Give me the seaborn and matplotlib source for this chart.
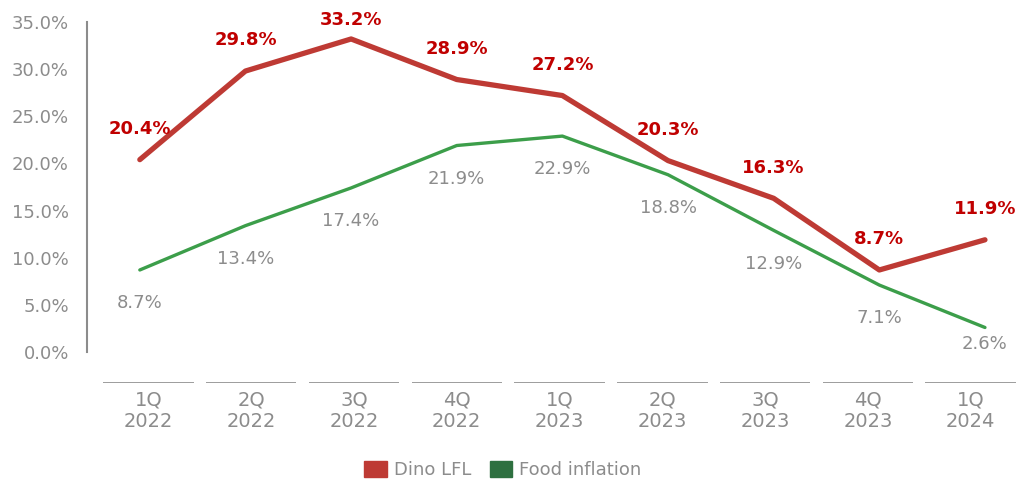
import seaborn as sns
import matplotlib.pyplot as plt
import matplotlib.patches as mpatches
import pandas as pd
import numpy as np

sns.set_style("white")
plt.rcParams["font.family"] = ["DejaVu Sans"]

quarters = ["1Q\n2022", "2Q\n2022", "3Q\n2022", "4Q\n2022", "1Q\n2023",
            "2Q\n2023", "3Q\n2023", "4Q\n2023", "1Q\n2024"]
dino_lfl = [20.4, 29.8, 33.2, 28.9, 27.2, 20.3, 16.3, 8.7, 11.9]
food_inflation = [8.7, 13.4, 17.4, 21.9, 22.9, 18.8, 12.9, 7.1, 2.6]

pos = np.arange(len(quarters))
df = pd.DataFrame({
    "pos": np.concatenate([pos, pos]),
    "value": dino_lfl + food_inflation,
    "series": ["Dino LFL"] * len(pos) + ["Food inflation"] * len(pos),
})

red = "#BE3A34"
green = "#3C9E4A"
gray = "#8C8C8C"

fig = plt.figure(figsize=(10.17, 4.82), dpi=100)
W, H = 1017, 482

# main plot area (pixel coords measured from the bottom)
ax = fig.add_axes([87 / W, 130 / H, (1010 - 87) / W, (460 - 130) / H])
sns.lineplot(data=df[df.series == "Dino LFL"], x="pos", y="value", color=red,
             linewidth=3.8, ax=ax, legend=False)
sns.lineplot(data=df[df.series == "Food inflation"], x="pos", y="value", color=green,
             linewidth=2.4, ax=ax, legend=False)
ax.set_xlim(-0.5, 8.237)
ax.set_ylim(0, 35)
ax.set_yticks(np.arange(0, 36, 5))
ax.set_yticklabels([f"{v:.1f}%" for v in np.arange(0, 36, 5)], color=gray, fontsize=13)
ax.tick_params(axis="y", length=0, pad=13)
ax.set_xticks([])
ax.set_xlabel("")
ax.set_ylabel("")
for s in ["top", "right", "bottom"]:
    ax.spines[s].set_visible(False)
ax.spines["left"].set_color(gray)
ax.spines["left"].set_linewidth(1.5)

for x, v in zip(pos, dino_lfl):
    dy = 14 if v > 32 else 22
    ax.annotate(f"{v}%", (x, v), xytext=(0, dy), textcoords="offset points",
                ha="center", va="center", color="#C00000", fontsize=13,
                fontweight="bold", annotation_clip=False)
for x, v in zip(pos, food_inflation):
    dy = -12 if v < 4 else -24
    ax.annotate(f"{v}%", (x, v), xytext=(0, dy), textcoords="offset points",
                ha="center", va="center", color=gray, fontsize=13,
                annotation_clip=False)

# category axis: top edge at y=382 px from the top
cax = fig.add_axes([97 / W, 40 / H, (1022 - 97) / W, 60 / H])
cax.set_xlim(-0.5, len(quarters) - 0.5)
cax.set_ylim(0, 1)
cax.hlines([1] * len(pos), pos - 0.44, pos + 0.44, color=gray, linewidth=1.2)
cax.set_xticks([])
cax.set_yticks([])
for s in cax.spines.values():
    s.set_visible(False)
cax.patch.set_alpha(0)
for x, q in zip(pos, quarters):
    cax.annotate(q, (x, 1), xytext=(0, -6), textcoords="offset points",
                 ha="center", va="top", color=gray, fontsize=14, linespacing=1.2)

handles = [mpatches.Patch(color=red, label="Dino LFL"),
           mpatches.Patch(color="#2E7040", label="Food inflation")]
fig.legend(handles=handles, loc="center", bbox_to_anchor=(503 / W, 1 - 470 / H),
           ncol=2, frameon=False, fontsize=13, handlelength=1.25, handleheight=1.0,
           columnspacing=1.0, handletextpad=0.4, labelcolor=gray)

fig.savefig("out.png", dpi=100)
